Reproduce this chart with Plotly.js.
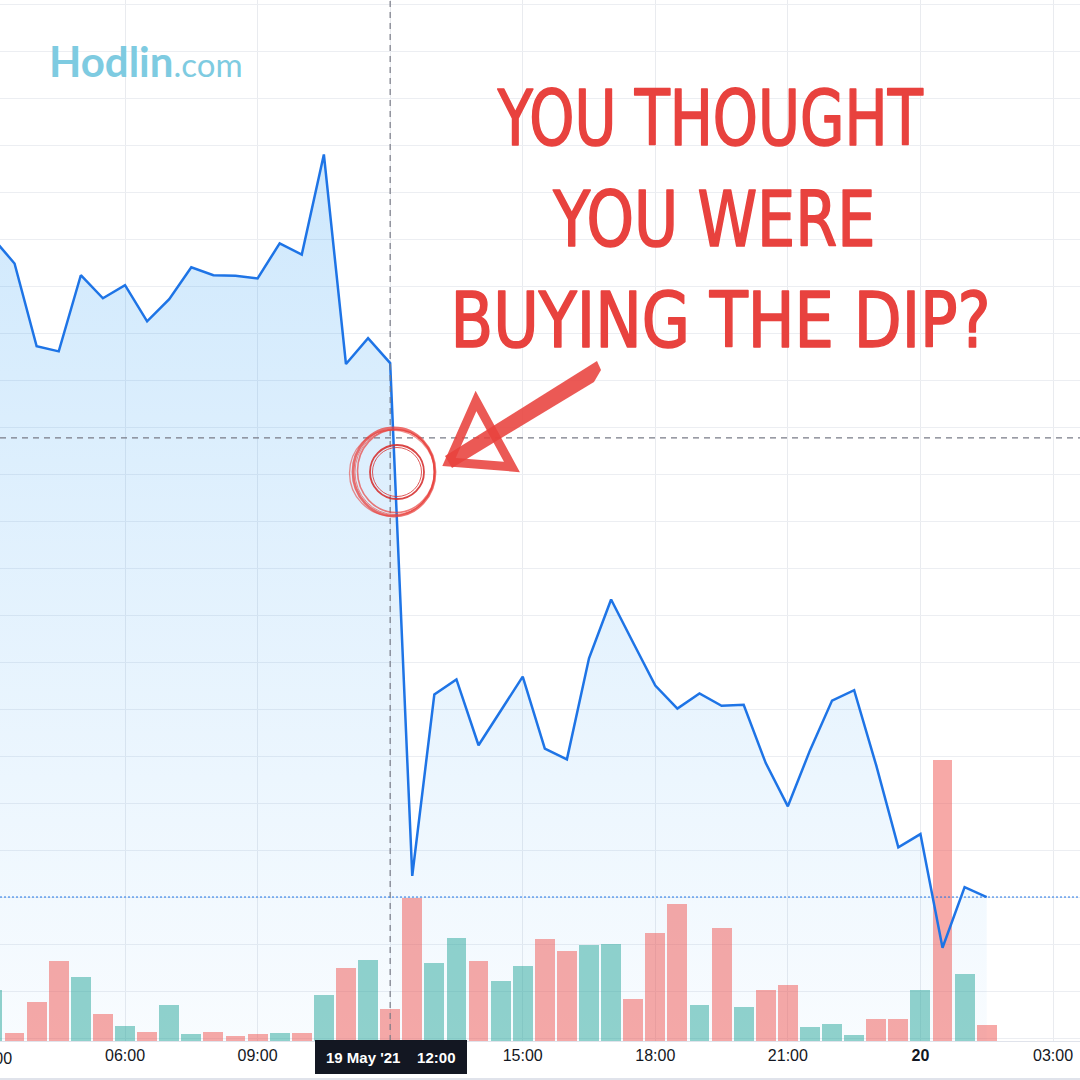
<!DOCTYPE html>
<html>
<head>
<meta charset="utf-8">
<script src="https://cdn.plot.ly/plotly-3.0.1.min.js"></script>
<style>
  html, body { margin: 0; padding: 0; background: #ffffff; }
  #chart { width: 1080px; height: 1080px; }
</style>
</head>
<body>
<div id="chart"></div>
<script>
// ---- Data (30-minute closes, 19-20 May 2021) ----
const times = [
  '2021-05-19 03:00','2021-05-19 03:30','2021-05-19 04:00','2021-05-19 04:30',
  '2021-05-19 05:00','2021-05-19 05:30','2021-05-19 06:00','2021-05-19 06:30',
  '2021-05-19 07:00','2021-05-19 07:30','2021-05-19 08:00','2021-05-19 08:30',
  '2021-05-19 09:00','2021-05-19 09:30','2021-05-19 10:00','2021-05-19 10:30',
  '2021-05-19 11:00','2021-05-19 11:30','2021-05-19 12:00','2021-05-19 12:30',
  '2021-05-19 13:00','2021-05-19 13:30','2021-05-19 14:00','2021-05-19 14:30',
  '2021-05-19 15:00','2021-05-19 15:30','2021-05-19 16:00','2021-05-19 16:30',
  '2021-05-19 17:00','2021-05-19 17:30','2021-05-19 18:00','2021-05-19 18:30',
  '2021-05-19 19:00','2021-05-19 19:30','2021-05-19 20:00','2021-05-19 20:30',
  '2021-05-19 21:00','2021-05-19 21:30','2021-05-19 22:00','2021-05-19 22:30',
  '2021-05-19 23:00','2021-05-19 23:30','2021-05-20 00:00','2021-05-20 00:30',
  '2021-05-20 01:00','2021-05-20 01:30'
];
const prices = [
  44050, 43500, 41740, 41630, 43250, 42760, 43040, 42270,
  42740, 43420, 43250, 43240, 43180, 43930, 43690, 45820,
  41360, 41910, 41380, 30470, 34330, 34650, 33250, 33970,
  34710, 33180, 32950, 35100, 36350, 35430, 34520, 34030,
  34350, 34090, 34110, 32870, 31950, 33140, 34200, 34420,
  32820, 31080, 31360, 28940, 30230, 30020
];
const volumes = [
  510, 80, 390, 800, 640, 270, 150, 90,
  360, 70, 90, 50, 70, 80, 80, 460,
  730, 810, 320, 1430, 780, 1030, 800, 600,
  750, 1020, 900, 960, 970, 420, 1080, 1370,
  360, 1130, 340, 510, 560, 140, 170, 60,
  220, 220, 510, 2810, 670, 160
];
const tickVals = [
  '2021-05-19 03:00','2021-05-19 06:00','2021-05-19 09:00','2021-05-19 12:00',
  '2021-05-19 15:00','2021-05-19 18:00','2021-05-19 21:00','2021-05-20 00:00',
  '2021-05-20 03:00'
];
// 12:00 is shown inside the crosshair time label instead of as a plain tick label
const tickText = ['03:00','06:00','09:00','','15:00','18:00','21:00','<b>20</b>','03:00'];
const crosshairTime = '2021-05-19 12:00';
const crosshairPrice = 39790;
const crosshairLabel = "19 May '21&nbsp;&nbsp;&nbsp;&nbsp;12:00";
const headline = ['YOU THOUGHT', 'YOU WERE', 'BUYING THE DIP?'];

// ---- Styling helpers ----
const UP = 'rgba(38,166,154,0.5)';
const DOWN = 'rgba(239,83,80,0.5)';
const barColors = prices.map((p, i) => (i === 0 || p >= prices[i - 1]) ? UP : DOWN);
const priceRange = [26957, 49106];
const PW = 1080, PH = 1041;
const px = x => x / PW;
const py = y => (PH - y) / PH;
const RED = 'rgba(232,66,62,0.88)';
const HEAD_FONT = '"Liberation Sans Narrow", "DejaVu Sans Condensed", sans-serif';
const headWidths = [425, 322, 540];

const traces = [
  { // area fill
    type: 'scatter', mode: 'lines', x: times, y: prices, xaxis: 'x', yaxis: 'y',
    line: { width: 0, color: 'rgba(0,0,0,0)' },
    fill: 'tozeroy',
    fillgradient: {
      type: 'vertical', start: priceRange[0], stop: 46000,
      colorscale: [[0, 'rgba(33,150,243,0.03)'], [1, 'rgba(33,150,243,0.22)']]
    },
    hoverinfo: 'skip', showlegend: false
  },
  { // volume
    type: 'bar', x: times, y: volumes, xaxis: 'x', yaxis: 'y2',
    marker: { color: barColors, line: { width: 0 } },
    width: 27 * 60 * 1000,
    hoverinfo: 'skip', showlegend: false
  },
  { // price line
    type: 'scatter', mode: 'lines', x: times, y: prices, xaxis: 'x', yaxis: 'y3',
    line: { color: '#1e74e6', width: 2.5 },
    hoverinfo: 'skip', showlegend: false
  }
];

function circle(cx, cy, rx, ry, w, col) {
  return { type: 'circle', xref: 'paper', yref: 'paper',
    x0: px(cx - rx), x1: px(cx + rx), y0: py(cy + ry), y1: py(cy - ry),
    line: { color: col, width: w } };
}

const shapes = [
  // crosshair
  { type: 'line', xref: 'x', yref: 'paper', x0: crosshairTime, x1: crosshairTime, y0: 0, y1: 1,
    line: { color: '#787b86', width: 1.2, dash: '6px,5px' } },
  { type: 'line', xref: 'paper', yref: 'y', x0: 0, x1: 1, y0: crosshairPrice, y1: crosshairPrice,
    line: { color: '#787b86', width: 1.2, dash: '6px,5px' } },
  // last price
  { type: 'line', xref: 'paper', yref: 'y3', x0: 0, x1: 1,
    y0: prices[prices.length - 1], y1: prices[prices.length - 1],
    line: { color: '#1e74e6', width: 1, dash: '2px,2px' } },
  // bottom border
  { type: 'line', xref: 'paper', yref: 'paper', x0: 0, x1: 1, y0: py(1079), y1: py(1079),
    line: { color: '#e0e3eb', width: 2 } },
  // crosshair time label box
  { type: 'rect', xref: 'paper', yref: 'paper', x0: px(315), x1: px(467), y0: py(1074), y1: py(1040),
    fillcolor: '#131722', line: { width: 0 } },
  // hand drawn circle
  circle(394, 472, 41, 44, 2.8, 'rgba(232,66,62,0.75)'),
  circle(396, 471, 38.5, 41.5, 1.6, 'rgba(232,66,62,0.7)'),
  circle(392, 473, 42.5, 43, 1.3, 'rgba(232,66,62,0.6)'),
  circle(395, 472, 40, 42.5, 1.0, 'rgba(232,66,62,0.6)'),
  circle(397, 472, 27, 27, 1.8, 'rgba(214,50,50,0.9)'),
  circle(397, 472, 24.5, 24.5, 1.0, 'rgba(214,50,50,0.8)'),
  // arrow shaft
  { type: 'path', xref: 'paper', yref: 'paper', layer: 'above',
    path: `M ${px(597)},${py(361)} L ${px(601)},${py(370)} L ${px(594)},${py(382)} L ${px(452)},${py(468)} L ${px(445)},${py(456)} Z`,
    fillcolor: RED, line: { width: 0 } },
  // arrow head
  { type: 'path', xref: 'paper', yref: 'paper', layer: 'above',
    path: `M ${px(476)},${py(401)} L ${px(449)},${py(462)} L ${px(512)},${py(467)} Z`,
    fillcolor: 'rgba(0,0,0,0)', line: { color: RED, width: 9 } }
];

const annotations = [
  { xref: 'paper', yref: 'paper', x: px(47), y: py(61), xanchor: 'left', yanchor: 'middle',
    text: "<b>Hodlin</b><span style='font-size:33px'>.com</span>", showarrow: false,
    font: { family: 'Lato, "Open Sans", sans-serif', size: 42, color: '#7ecbe1' } },
  { xref: 'paper', yref: 'paper', x: px(710), y: py(118), xanchor: 'center', yanchor: 'middle',
    text: headline[0], showarrow: false, font: { family: HEAD_FONT, size: 76, color: '#e8423e' } },
  { xref: 'paper', yref: 'paper', x: px(714), y: py(219), xanchor: 'center', yanchor: 'middle',
    text: headline[1], showarrow: false, font: { family: HEAD_FONT, size: 76, color: '#e8423e' } },
  { xref: 'paper', yref: 'paper', x: px(720), y: py(321), xanchor: 'center', yanchor: 'middle',
    text: headline[2], showarrow: false, font: { family: HEAD_FONT, size: 76, color: '#e8423e' } },
  // cut-off first tick label (as in the reference)
  { xref: 'paper', yref: 'paper', x: px(-8), y: py(1058), xanchor: 'center', yanchor: 'middle',
    text: tickText[0], showarrow: false,
    font: { family: '"Liberation Sans", Arial, sans-serif', size: 16, color: '#131722' } },
  // crosshair time label
  { xref: 'paper', yref: 'paper', x: px(391), y: py(1057), xanchor: 'center', yanchor: 'middle',
    text: '<b>' + crosshairLabel + '</b>', showarrow: false,
    font: { family: '"Liberation Sans", Arial, sans-serif', size: 15, color: '#ffffff' } }
];

const layout = {
  width: 1080, height: 1080,
  margin: { l: 0, r: 0, t: 0, b: 39, pad: 0 },
  paper_bgcolor: '#ffffff', plot_bgcolor: '#ffffff',
  showlegend: false, hovermode: false, bargap: 0,
  xaxis: {
    type: 'date', range: ['2021-05-19 03:10:15', '2021-05-20 03:36:40'],
    tickvals: tickVals, ticktext: tickText, ticks: '', showgrid: true,
    gridcolor: '#e9ebef', gridwidth: 1, showline: true, linecolor: '#e0e3eb', linewidth: 1,
    zeroline: false, fixedrange: true,
    tickfont: { family: '"Liberation Sans", Arial, sans-serif', size: 16, color: '#131722' }
  },
  yaxis: {
    range: priceRange, dtick: 1000, tick0: 0, showticklabels: false, ticks: '',
    showgrid: true, gridcolor: '#eceef2', gridwidth: 1, zeroline: false, fixedrange: true
  },
  yaxis2: {
    overlaying: 'y', range: [0, 10410], showgrid: false, showticklabels: false,
    zeroline: false, ticks: '', fixedrange: true
  },
  yaxis3: {
    overlaying: 'y', range: priceRange, showgrid: false, showticklabels: false,
    zeroline: false, ticks: '', fixedrange: true
  },
  shapes: shapes,
  annotations: annotations
};

Plotly.newPlot('chart', traces, layout, { staticPlot: true, displayModeBar: false }).then(() => {
  // squeeze the headline lines horizontally to the hand-lettered widths
  document.querySelectorAll('#chart .annotation-text').forEach(t => {
    const i = headline.indexOf(t.textContent);
    if (i >= 0) {
      t.setAttribute('textLength', headWidths[i]);
      t.setAttribute('lengthAdjust', 'spacingAndGlyphs');
      t.style.stroke = '#e8423e';
      t.style.strokeWidth = '1.6px';
      t.style.strokeLinejoin = 'round';
    }
  });
});
</script>
</body>
</html>
